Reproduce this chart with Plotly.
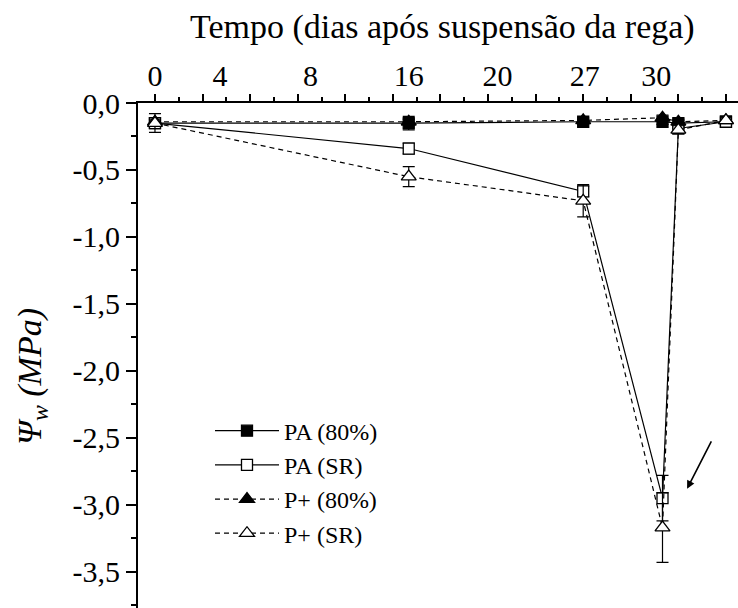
import plotly.graph_objects as go

# ---- data ----
days = [0, 16, 27, 32, 33, 36]
pa_80 = [-0.15, -0.15, -0.14, -0.14, -0.15, -0.14]
pa_80_err = [0.03, 0.05, 0.02, 0.02, 0.02, 0.02]
pa_sr = [-0.15, -0.34, -0.66, -2.95, -0.19, -0.14]
pa_sr_err = [0.03, 0.04, 0.04, 0.17, 0.03, 0.02]
pp_80 = [-0.14, -0.14, -0.13, -0.11, -0.14, -0.13]
pp_80_err = [0.02, 0.02, 0.02, 0.02, 0.02, 0.02]
pp_sr = [-0.15, -0.55, -0.73, -3.17, -0.20, -0.13]
pp_sr_err = [0.07, 0.075, 0.12, 0.26, 0.03, 0.02]

x_label_pos = [0, 4.1, 9.8, 16, 21.6, 27.1, 31.6]
x_label_text = ["0", "4", "8", "16", "20", "27", "30"]
y_tick_vals = [0, -0.5, -1.0, -1.5, -2.0, -2.5, -3.0, -3.5]
y_tick_text = ["0,0", "-0,5", "-1,0", "-1,5", "-2,0", "-2,5", "-3,0", "-3,5"]

FONT = "Liberation Serif"

fig = go.Figure()

def add(name, y, err, symbol, filled, dash, group):
    fig.add_trace(go.Scatter(
        x=days, y=y, name=name, mode="lines+markers",
        legendgroup=group,
        line=dict(color="black", width=1.2, dash=dash),
        marker=dict(symbol=symbol, size=13 if symbol == "triangle-up" else 11,
                    color="black" if filled else "white",
                    line=dict(color="black", width=1.3)),
        error_y=dict(type="data", array=err, visible=True, color="black",
                     thickness=1.2, width=6),
    ))

add("PA (80%)", pa_80, pa_80_err, "square", True, "solid", "a")
add("PA (SR)", pa_sr, pa_sr_err, "square", False, "solid", "b")
add("P+ (80%)", pp_80, pp_80_err, "triangle-up", True, "5px,4px", "c")
add("P+ (SR)", pp_sr, pp_sr_err, "triangle-up", False, "5px,4px", "d")

# invisible trace so the label axis is drawn
fig.add_trace(go.Scatter(x=[0], y=[0], xaxis="x2", mode="markers",
                         marker=dict(opacity=0), showlegend=False, hoverinfo="skip"))

xr = [-1.07, 36.76]
yr = [-3.77, 0.0]

fig.update_layout(
    width=738, height=608,
    margin=dict(l=138, r=0, t=103, b=0, pad=0),
    paper_bgcolor="white", plot_bgcolor="white",
    font=dict(family=FONT, color="black", size=30),
    showlegend=True,
    legend=dict(x=0.12, y=0.395, xanchor="left", yanchor="top",
                bgcolor="rgba(0,0,0,0)", font=dict(family=FONT, size=24, color="black"),
                itemwidth=64, tracegroupgap=4, traceorder="normal"),
    xaxis=dict(range=xr, side="top", showline=True, linecolor="black", linewidth=2,
               ticks="outside", ticklen=7, tickwidth=1.5, tickcolor="black",
               tick0=0, dtick=3, showticklabels=False, showgrid=False, zeroline=False,
               minor=dict(ticks="outside", ticklen=4, tickwidth=1.5, tickcolor="black", dtick=1.5, tick0=0)),
    xaxis2=dict(range=xr, overlaying="x", side="top", anchor="y", showline=False,
                tickvals=x_label_pos, ticktext=x_label_text, ticks="",
                showgrid=False, zeroline=False, ticklabelstandoff=10,
                tickfont=dict(family=FONT, size=30, color="black")),
    yaxis=dict(range=yr, showline=True, linecolor="black", linewidth=2,
               ticks="outside", ticklen=10, tickwidth=1.5, tickcolor="black",
               tickvals=y_tick_vals, ticktext=y_tick_text,
               showgrid=False, zeroline=False, ticklabelstandoff=0,
               tickfont=dict(family=FONT, size=30, color="black"),
               minor=dict(ticks="outside", ticklen=5, tickwidth=1.5, tickcolor="black", dtick=0.25, tick0=0)),
)

fig.add_annotation(text="Tempo (dias após suspensão da rega)", xref="paper", yref="paper",
                   x=0.508, y=(608 - 27) / 505, xanchor="center", yanchor="middle",
                   showarrow=False, font=dict(family=FONT, size=34, color="black"))
fig.add_annotation(text="<i>Ψ</i><sub><i>w</i></sub><i> (MPa)</i>", xref="paper", yref="paper",
                   x=(32 - 138) / 600, y=(608 - 377) / 505, xanchor="center", yanchor="middle",
                   textangle=-90, showarrow=False, font=dict(family=FONT, size=34, color="black"))
fig.add_annotation(x=33.55, y=-2.88, xref="x", yref="y", ax=25, ay=-49, text="",
                   showarrow=True, arrowhead=2, arrowsize=1, arrowwidth=1.6, arrowcolor="black")

fig.write_html("out.html")
